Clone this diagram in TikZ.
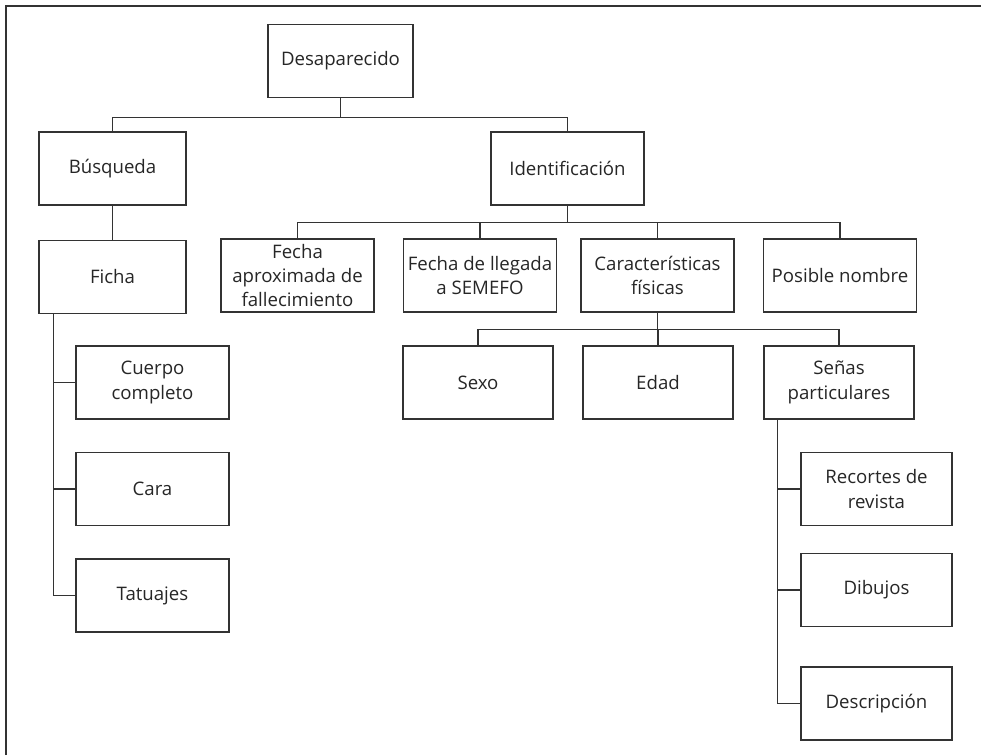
\documentclass[tikz,border=0pt]{standalone}
\usepackage{fontspec}
\setmainfont{Open Sans}
\usetikzlibrary{positioning}
\tikzset{
    block/.style={shape=rectangle, draw=black!80, line width=0.6pt, text=black!85,
        minimum width=3.06cm, minimum height=1.46cm, align=center, inner sep=1pt,
        font=\fontsize{10.6}{13.9}\selectfont},
    link/.style={draw=black!80, line width=0.6pt}
}

\begin{document}
\begin{tikzpicture}[x=0.02cm, y=-0.02cm]
    \useasboundingbox (0,0) rectangle (981,755);

    % frame
    \draw [link] (6,755) -- (6,6) -- (981,6);

    % nodes
    \node [block, minimum width=2.9cm]  at (340.5,61)    (des) {Desaparecido};
    \node [block, minimum width=2.94cm] at (112.5,168.5) (bus) {Búsqueda};
    \node [block]                       at (567.5,168.5) (ide) {Identificación};
    \node [block, minimum width=2.94cm, below=0.68cm of bus] (fic) {Ficha};

    \node [block] at (297.5,275.5) (fap) {Fecha\\aproximada de\\fallecimiento};
    \node [block] at (480,275.5)   (fll) {Fecha de llegada\\a SEMEFO};
    \node [block] at (657.5,275.5) (car) {Características\\físicas};
    \node [block] at (840,275.5)   (pos) {Posible nombre};

    \node [block, minimum width=3cm] at (478,382.5) (sex) {Sexo};
    \node [block, minimum width=3cm] at (658,382.5) (eda) {Edad};
    \node [block, minimum width=3cm] at (839,382.5) (sen) {Señas\\particulares};

    \node [block] at (152.5,382.5) (cue) {Cuerpo\\completo};
    \node [block] at (152.5,489)   (cra) {Cara};
    \node [block] at (152.5,595.5) (tat) {Tatuajes};

    \node [block, minimum width=3.02cm] at (876.5,489)   (rec) {Recortes de\\revista};
    \node [block, minimum width=3.02cm] at (876.5,590)   (dib) {Dibujos};
    \node [block, minimum width=3.02cm] at (876.5,703.5) (dsc) {Descripción};

    % connectors
    \begin{scope}[link]
        \draw (des.south) -- ++(0,19) -| (bus.north);
        \draw (des.south) -- ++(0,19) -| (ide.north);
        \draw (bus) -- (fic);
        \foreach \n in {fap,fll,car,pos}
            \draw (ide.south) -- ++(0,17) -| (\n.north);
        \foreach \n in {sex,eda,sen}
            \draw (car.south) -- ++(0,17) -| (\n.north);
        \foreach \n in {cue,cra,tat}
            \draw ([xshift=0.3cm]fic.south west) |- (\n.west);
        \foreach \n in {rec,dib,dsc}
            \draw ([xshift=0.28cm]sen.south west) |- (\n.west);
    \end{scope}
\end{tikzpicture}
\end{document}
